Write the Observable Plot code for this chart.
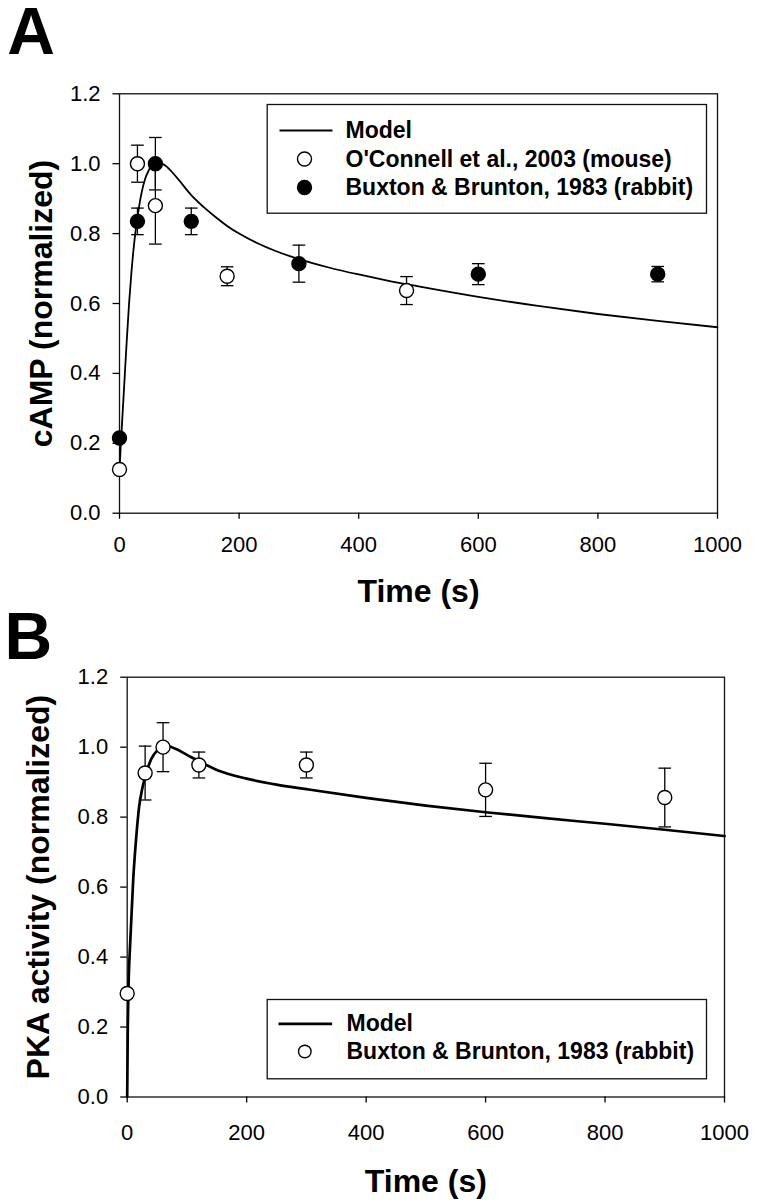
<!DOCTYPE html>
<html>
<head>
<meta charset="utf-8">
<script src="https://cdn.jsdelivr.net/npm/d3@7"></script>
<script src="https://cdn.jsdelivr.net/npm/@observablehq/plot@0.6"></script>
<style>
html, body { margin: 0; padding: 0; background: #fff; }
#wrap { position: relative; width: 759px; height: 1203px; overflow: hidden; }
#wrap svg { position: absolute; left: 0; }
</style>
</head>
<body>
<div id="wrap"></div>
<script>
// ---------- data: panel A (cAMP) ----------
const timeA_oconnell = [0, 30, 60, 180, 480];
const camp_oconnell = [0.125, 1.0, 0.88, 0.678, 0.637];
const campErr_oconnell = [0, 0.053, 0.11, 0.027, 0.04];

const timeA_buxton = [0, 30, 60, 120, 300, 600, 900];
const camp_buxton = [0.215, 0.835, 1.0, 0.835, 0.714, 0.684, 0.684];
const campErr_buxton = [0, 0.038, 0.075, 0.038, 0.053, 0.03, 0.022];

const modelTimeA = [0, 2, 5, 8, 12, 16, 20, 25, 30, 35, 40, 50, 60, 70, 80, 90, 100, 120, 140, 160, 180, 200, 230, 260, 300, 350, 400, 450, 500, 600, 700, 800, 900, 1000];
const modelCamp = [0.12, 0.19, 0.28, 0.37, 0.49, 0.6, 0.69, 0.78, 0.845, 0.9, 0.94, 0.985, 1.0, 1.0, 0.99, 0.972, 0.952, 0.91, 0.877, 0.848, 0.822, 0.8, 0.773, 0.751, 0.727, 0.703, 0.683, 0.665, 0.649, 0.619, 0.593, 0.57, 0.55, 0.532];

// ---------- data: panel B (PKA) ----------
const timeB_buxton = [0, 30, 60, 120, 300, 600, 900];
const pka_buxton = [0.296, 0.926, 1.0, 0.949, 0.949, 0.878, 0.856];
const pkaErr_buxton = [0, 0.077, 0.07, 0.037, 0.037, 0.076, 0.084];

const modelTimeB = [0, 1, 2, 5, 10, 15, 20, 25, 30, 40, 50, 60, 70, 80, 100, 120, 150, 200, 250, 300, 400, 500, 600, 700, 800, 900, 1000];
const modelPka = [0, 0.2, 0.3, 0.44, 0.62, 0.74, 0.83, 0.88, 0.915, 0.965, 0.99, 1.0, 1.002, 0.996, 0.978, 0.96, 0.935, 0.91, 0.893, 0.88, 0.855, 0.833, 0.814, 0.797, 0.781, 0.764, 0.746];

// ---------- ticks and labels ----------
const xTicks = [0, 200, 400, 600, 800, 1000];
const yTicks = [0, 0.2, 0.4, 0.6, 0.8, 1.0, 1.2];
const xLabel = "Time (s)";
const yLabelA = "cAMP (normalized)";
const yLabelB = "PKA activity (normalized)";
const legendA = ["Model", "O'Connell et al., 2003 (mouse)", "Buxton & Brunton, 1983 (rabbit)"];
const legendB = ["Model", "Buxton & Brunton, 1983 (rabbit)"];

// ---------- helpers ----------
const rows = (ts, vs, es) => ts.map((t, i) => ({t, v: vs[i], e: es ? es[i] : 0}));
const hLine = {draw(ctx, size) { const r = Math.sqrt(size / Math.PI); ctx.moveTo(-r, 0); ctx.lineTo(r, 0); }};
const FONT = "'Liberation Sans', Arial, Helvetica, sans-serif";

function errMarks(data) {
  const d = data.filter(r => r.e > 0);
  return [
    Plot.ruleX(d, {x: "t", y1: r => r.v - r.e, y2: r => r.v + r.e, stroke: "black", strokeWidth: 1.3}),
    Plot.dot(d, {x: "t", y: r => r.v + r.e, symbol: hLine, r: 6.3, stroke: "black", strokeWidth: 1.3}),
    Plot.dot(d, {x: "t", y: r => r.v - r.e, symbol: hLine, r: 6.3, stroke: "black", strokeWidth: 1.3})
  ];
}

function basePlot(cfg, marks) {
  return Plot.plot({
    width: 759, height: cfg.H,
    marginTop: cfg.mt, marginLeft: cfg.ml, marginRight: cfg.mr, marginBottom: cfg.mb,
    x: {domain: [0, 1000]},
    y: {domain: [0, 1.2]},
    style: {fontFamily: FONT, background: "transparent", color: "black"},
    marks: [
      Plot.frame({stroke: "#111", strokeWidth: 1.3}),
      Plot.axisX({ticks: xTicks, tickSize: 6, tickPadding: cfg.xPad, fontSize: 22, tickFormat: d => String(d), label: null, strokeWidth: 1.3}),
      Plot.axisY({ticks: yTicks, tickSize: 6.5, tickPadding: 12.5, fontSize: 22, tickFormat: d3.format(".1f"), label: null, strokeWidth: 1.3}),
      Plot.text([xLabel], {frameAnchor: "bottom", dy: cfg.xTitleDy, textAnchor: "middle", lineAnchor: "top", fontSize: 32, fontWeight: "bold"}),
      Plot.text([cfg.yLabel], {frameAnchor: "left", dx: cfg.yTitleDx, rotate: -90, textAnchor: "middle", lineAnchor: "middle", fontSize: 32, fontWeight: "bold"}),
      Plot.text([cfg.letter], {frameAnchor: "top-left", dx: cfg.letterDx, dy: cfg.letterDy, textAnchor: "start", lineAnchor: "top", fontSize: 66, fontWeight: "bold"}),
      ...marks
    ]
  });
}

// ---------- panel A ----------
const oconnell = rows(timeA_oconnell, camp_oconnell, campErr_oconnell);
const buxtonA = rows(timeA_buxton, camp_buxton, campErr_buxton);
const modelA = rows(modelTimeA, modelCamp);

const cfgA = {H: 630, mt: 93.3, ml: 119, mr: 42, mb: 117.3, xPad: 17, xTitleDy: 65.6, yTitleDx: -77.5,
  yLabel: yLabelA, letter: "A", letterDx: 6.7 - 119, letterDy: 6.7 - 93.3};

const svgA = basePlot(cfgA, [
  Plot.line(modelA, {x: "t", y: "v", stroke: "black", strokeWidth: 1.8, curve: "monotone-x"}),
  ...errMarks(oconnell),
  ...errMarks(buxtonA),
  Plot.dot(oconnell, {x: "t", y: "v", r: 7, fill: "white", stroke: "black", strokeWidth: 1.4}),
  Plot.dot(buxtonA, {x: "t", y: "v", r: 7, fill: "black", stroke: "black", strokeWidth: 1.4}),
  // legend
  Plot.frame({stroke: "#111", strokeWidth: 1.3, insetLeft: 147.7, insetRight: 11, insetTop: 10.7, insetBottom: 300}),
  Plot.dot([legendA[0]], {frameAnchor: "top-left", dx: 186.5, dy: 36.7, symbol: hLine, r: 26.5, stroke: "black", strokeWidth: 1.8}),
  Plot.dot([legendA[1]], {frameAnchor: "top-left", dx: 185, dy: 65.2, r: 7, fill: "white", stroke: "black", strokeWidth: 1.4}),
  Plot.dot([legendA[2]], {frameAnchor: "top-left", dx: 185, dy: 93.7, r: 7, fill: "black", stroke: "black", strokeWidth: 1.4}),
  Plot.text([legendA[0]], {frameAnchor: "top-left", dx: 226, dy: 36.7, textAnchor: "start", lineAnchor: "middle", fontSize: 23, fontWeight: "bold"}),
  Plot.text([legendA[1]], {frameAnchor: "top-left", dx: 226, dy: 65.7, textAnchor: "start", lineAnchor: "middle", fontSize: 23, fontWeight: "bold"}),
  Plot.text([legendA[2]], {frameAnchor: "top-left", dx: 226, dy: 94.2, textAnchor: "start", lineAnchor: "middle", fontSize: 23, fontWeight: "bold"})
]);

// ---------- panel B ----------
const buxtonB = rows(timeB_buxton, pka_buxton, pkaErr_buxton);
const modelB = rows(modelTimeB, modelPka);

const cfgB = {H: 619, mt: 92.7, ml: 126.7, mr: 35, mb: 106.5, xPad: 21, xTitleDy: 71.8, yTitleDx: -88.6,
  yLabel: yLabelB, letter: "B", letterDx: 4 - 126.7, letterDy: 612 - 676.7};

const svgB = basePlot(cfgB, [
  Plot.line(modelB, {x: "t", y: "v", stroke: "black", strokeWidth: 2.7, curve: "monotone-x"}),
  ...errMarks(buxtonB),
  Plot.dot(buxtonB, {x: "t", y: "v", r: 7, fill: "white", stroke: "black", strokeWidth: 1.4}),
  // legend
  Plot.frame({stroke: "#111", strokeWidth: 1.3, insetLeft: 140, insetRight: 18, insetTop: 322.3, insetBottom: 18.2}),
  Plot.dot([legendB[0]], {frameAnchor: "top-left", dx: 178.1, dy: 346.6, symbol: hLine, r: 26.8, stroke: "black", strokeWidth: 2.7}),
  Plot.dot([legendB[1]], {frameAnchor: "top-left", dx: 177.6, dy: 374.3, r: 6.3, fill: "white", stroke: "black", strokeWidth: 1.4}),
  Plot.text([legendB[0]], {frameAnchor: "top-left", dx: 219.3, dy: 346.6, textAnchor: "start", lineAnchor: "middle", fontSize: 23, fontWeight: "bold"}),
  Plot.text([legendB[1]], {frameAnchor: "top-left", dx: 219.3, dy: 374.3, textAnchor: "start", lineAnchor: "middle", fontSize: 23, fontWeight: "bold"})
]);

const wrap = document.getElementById("wrap");
svgA.style.top = "0px";
svgB.style.top = "584px";
wrap.appendChild(svgA);
wrap.appendChild(svgB);
</script>
</body>
</html>
